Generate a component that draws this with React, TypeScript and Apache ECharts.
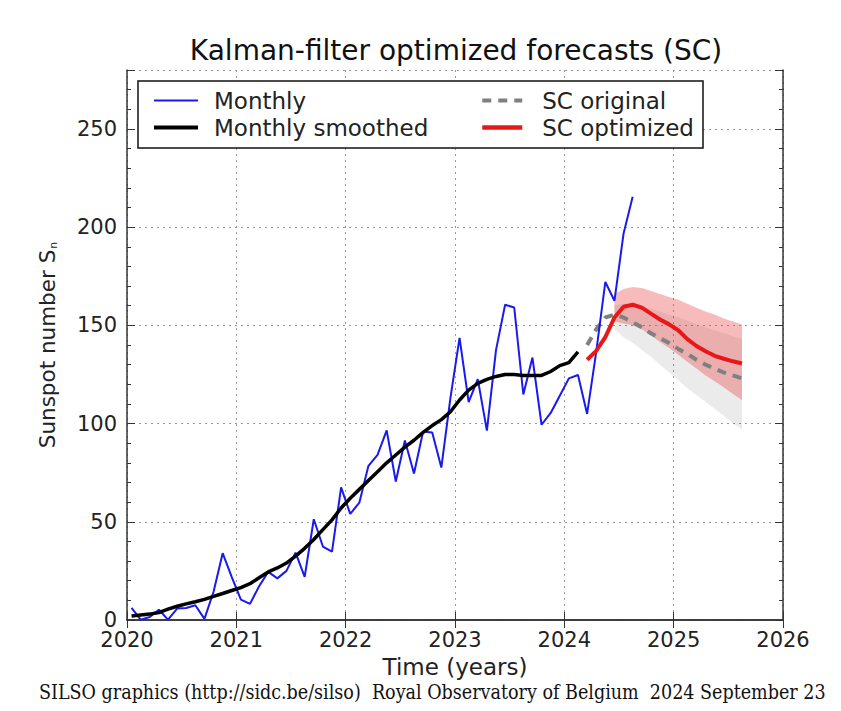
import React, { useEffect, useRef } from "react";
import * as echarts from "echarts";

// Monthly mean sunspot number, Jan 2020 .. Aug 2024
const monthly = [
  6.2, 0.2, 1.5, 5.2, 0.2, 5.8, 6.1, 7.5, 0.6, 14.4, 34.0, 21.8,
  10.4, 8.2, 17.2, 24.5, 21.2, 25.0, 34.3, 22.0, 51.3, 37.4, 34.8, 67.5,
  54.0, 59.7, 78.5, 84.1, 96.5, 70.5, 91.4, 74.6, 96.0, 95.5, 77.6, 113.1,
  143.6, 110.9, 122.6, 96.4, 137.4, 160.5, 159.1, 114.8, 133.6, 99.4, 105.4, 114.2,
  123.0, 124.7, 104.9, 136.5, 172.1, 162.5, 196.7, 215.5,
];
// 13-month smoothed, Jan 2020 .. Feb 2024
const smoothed = [
  2.0, 2.5, 3.0, 3.8, 5.5, 7.0, 8.2, 9.3, 10.5, 12.0, 13.5, 15.0,
  16.5, 18.5, 21.5, 24.5, 26.5, 29.0, 32.5, 36.5, 41.0, 46.0, 51.0, 57.0,
  62.0, 66.5, 71.0, 75.5, 80.0, 84.0, 88.0, 91.5, 95.5, 99.0, 102.0, 106.0,
  112.0, 117.0, 120.5, 122.5, 124.0, 125.0, 125.0, 124.5, 124.5, 124.5, 126.5, 129.5,
  131.0, 136.5,
];
// Forecasts, Mar 2024 .. Aug 2025 (month index 50..67 from Jan 2020)
const forecastStartIndex = 50;
const scOriginal = [140, 148, 154, 155.5, 154, 151.5, 149, 146, 143.5, 141, 138, 135.5, 132.5, 130, 128, 126, 124.5, 123];
const scOptimized = [132.5, 137, 144, 154, 159.5, 160.5, 159, 156, 153, 150.5, 147.5, 143, 139.5, 136.8, 134.5, 133, 131.7, 130.6];
// Uncertainty bands, Jun 2024 .. Aug 2025 (month index 53..67)
const bandStartIndex = 53;
const optLow = [152, 151, 150, 148, 145, 141.5, 138.5, 135, 131.5, 128, 124.5, 121.5, 118.5, 115, 112];
const optHigh = [166, 168.5, 169.5, 169, 167.5, 166, 164.5, 163, 161, 159, 157, 155.5, 153.5, 152, 150.5];
const origLow = [148, 144, 141, 137.5, 134, 130, 126, 122, 118, 114.5, 111, 107.5, 104, 100, 97];
const origHigh = [160, 161, 161, 160, 158.5, 157, 155.5, 154, 152.5, 150.5, 149, 147.5, 146, 144.5, 143];

const xMin = 2020;
const xMax = 2026;
const yMin = 0;
const yMax = 280;

const FONT = "'DejaVu Sans', sans-serif";
const monthTime = (i: number) => 2020 + (i + 0.5) / 12;

function bandSeries(name: string, low: number[], high: number[], fill: string, z: number) {
  const data = low.map((v, i) => [monthTime(bandStartIndex + i), v, high[i]]);
  return {
    type: "custom",
    name,
    z,
    silent: true,
    encode: { x: 0, y: [1, 2] },
    data,
    renderItem: (params: any, api: any) => {
      if (params.dataIndex !== 0) return null;
      const pts: number[][] = [];
      for (let i = 0; i < data.length; i++) pts.push(api.coord([data[i][0], data[i][2]]));
      for (let i = data.length - 1; i >= 0; i--) pts.push(api.coord([data[i][0], data[i][1]]));
      return { type: "polygon", shape: { points: pts }, style: { fill, stroke: "none" } };
    },
  };
}

export default function App() {
  const ref = useRef<HTMLDivElement>(null);
  useEffect(() => {
    document.body.style.margin = "0";
    const chart = echarts.init(ref.current!, undefined, { renderer: "svg" });
    const axisLine = { show: true, lineStyle: { color: "#333", width: 1.5 } };
    const legendText = { fontSize: 23, fontFamily: FONT, color: "#222", lineHeight: 20 };
    const option: any = {
      animation: false,
      backgroundColor: "#fff",
      grid: { left: 127, right: 58, top: 70, bottom: 91, containLabel: false },
      xAxis: [
        {
          type: "value", min: xMin, max: xMax, interval: 1,
          axisLine, axisTick: { show: true, inside: true, length: 8, lineStyle: { color: "#333" } },
          axisLabel: { fontSize: 21, fontFamily: FONT, color: "#222", margin: 9, formatter: (v: number) => String(v) },
          splitLine: { show: true, lineStyle: { color: "#999", width: 1, type: [2, 4] } },
          name: "Time (years)", nameLocation: "middle", nameGap: 35,
          nameTextStyle: { fontSize: 23, fontFamily: FONT, color: "#222" },
        },
        {
          type: "value", min: xMin, max: xMax, interval: 1, position: "top",
          axisLine, axisTick: { show: true, inside: true, length: 8, lineStyle: { color: "#333" } },
          axisLabel: { show: false }, splitLine: { show: false },
        },
      ],
      yAxis: [
        {
          type: "value", min: yMin, max: yMax, interval: 50,
          axisLine, axisTick: { show: true, inside: true, length: 8, lineStyle: { color: "#333" } },
          minorTick: { show: true, splitNumber: 5, length: 4, lineStyle: { color: "#333" } },
          axisLabel: { fontSize: 21, fontFamily: FONT, color: "#222", margin: 10, showMaxLabel: false },
          splitLine: { show: true, lineStyle: { color: "#999", width: 1, type: [2, 4] } },
          name: "Sunspot number S{sub|n}", nameLocation: "middle", nameGap: 68,
          nameTextStyle: {
            fontSize: 21.5, fontFamily: FONT, color: "#222",
            rich: { sub: { fontSize: 11, fontFamily: FONT, color: "#222", padding: [12, 0, 0, 1] } },
          },
        },
        {
          type: "value", min: yMin, max: yMax, interval: 50, position: "right",
          axisLine, axisTick: { show: true, inside: true, length: 8, lineStyle: { color: "#333" } },
          minorTick: { show: true, splitNumber: 5, length: 4, lineStyle: { color: "#333" } },
          axisLabel: { show: false }, splitLine: { show: false },
        },
      ],
      legend: [
        {
          left: 152, top: 89, orient: "vertical", padding: 0, itemGap: 4,
          itemWidth: 44, itemHeight: 14, selectedMode: false, z: 10,
          itemStyle: { opacity: 0 },
          data: [
            { name: "Monthly", lineStyle: { width: 2 } },
            { name: "Monthly smoothed", lineStyle: { width: 4 } },
          ],
          textStyle: { ...legendText, padding: [0, 0, 0, 11] },
        },
        {
          left: 480, top: 89, orient: "vertical", padding: 0, itemGap: 4,
          itemWidth: 40, itemHeight: 14, selectedMode: false, z: 10,
          itemStyle: { opacity: 0 },
          data: [
            { name: "SC original", lineStyle: { width: 4 } },
            { name: "SC optimized", lineStyle: { width: 4.5 } },
          ],
          textStyle: { ...legendText, padding: [0, 0, 0, 15] },
        },
      ],
      graphic: [
        {
          type: "rect", z: 5, shape: { x: 138, y: 81, width: 565, height: 67 },
          style: { fill: "#fff", stroke: "#111", lineWidth: 1.5 },
        },
        {
          type: "text", x: 456, y: 50,
          style: {
            text: "Kalman-filter optimized forecasts (SC)", fill: "#111",
            font: `28px ${FONT}`, align: "center", verticalAlign: "middle",
          },
        },
        {
          type: "text", x: 39, y: 692,
          style: {
            text: "SILSO graphics (http://sidc.be/silso)  Royal Observatory of Belgium  2024 September 23",
            fill: "#111", font: "19.5px 'DejaVu Serif Condensed', 'DejaVu Serif', serif",
            align: "left", verticalAlign: "middle",
          },
        },
      ],
      series: [
        bandSeries("orig band", origLow, origHigh, "rgba(0,0,0,0.08)", 1),
        bandSeries("opt band", optLow, optHigh, "rgba(235,60,60,0.35)", 1),
        {
          type: "line", name: "SC original", z: 3, symbol: "none",
          data: scOriginal.map((v, i) => [monthTime(forecastStartIndex + i), v]),
          lineStyle: { color: "#808080", width: 4, type: [9, 7] }, itemStyle: { color: "#808080" },
        },
        {
          type: "line", name: "Monthly", z: 4, symbol: "none",
          data: monthly.map((v, i) => [monthTime(i), v]),
          lineStyle: { color: "#1a1aee", width: 2 }, itemStyle: { color: "#1a1aee" },
        },
        {
          type: "line", name: "SC optimized", z: 5, symbol: "none",
          data: scOptimized.map((v, i) => [monthTime(forecastStartIndex + i), v]),
          lineStyle: { color: "#e81818", width: 4 }, itemStyle: { color: "#e81818" },
        },
        {
          type: "line", name: "Monthly smoothed", z: 6, symbol: "none",
          data: smoothed.map((v, i) => [monthTime(i), v]),
          lineStyle: { color: "#000", width: 3.5 }, itemStyle: { color: "#000" },
        },
      ],
    };
    chart.setOption(option);
    return () => chart.dispose();
  }, []);
  return <div ref={ref} style={{ width: 841, height: 711 }} />;
}
